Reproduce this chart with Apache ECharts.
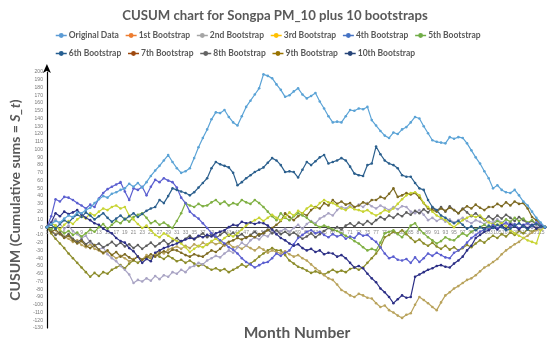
<!DOCTYPE html>
<html><head><meta charset="utf-8">
<script src="https://cdn.jsdelivr.net/npm/echarts@6/dist/echarts.min.js"></script>
<style>html,body{margin:0;padding:0;background:#fff}#c{width:550px;height:352px}</style>
</head><body><div id="c"></div>
<script>
var months = [];
for (var m = 1; m <= 116; m++) months.push(String(m));
var seriesNames = ['Original Data','1st Bootstrap','2nd Bootstrap','3rd Bootstrap','4th Bootstrap','5th Bootstrap','6th Bootstrap','7th Bootstrap','8th Bootstrap','9th Bootstrap','10th Bootstrap'];
var yTicks = {min: -130, max: 200, step: 10};

var original = [0,4,8,6,11,15,13,19,18,22,25,31,36,40,38,43,45,48,50,56,52,57,51,58,66,73,79,86,93,84,76,70,72,76,89,103,115,126,139,148,147,151,142,135,131,143,155,163,171,179,197,195,192,184,177,168,170,175,179,171,166,169,173,162,153,143,135,136,135,143,151,150,153,152,155,138,131,124,118,115,122,120,126,129,135,142,140,130,121,112,110,109,108,116,114,116,115,108,99,90,82,72,63,50,54,48,45,44,48,41,33,28,20,12,6,0];
var boot1 = [0,-4,-9,-6,-12,-15,-19,-17,-23,-26,-22,-28,-30,-34,-31,-36,-40,-37,-40,-44,-41,-38,-42,-36,-39,-35,-31,-34,-29,-27,-25,-28,-24,-27,-22,-25,-20,-23,-19,-22,-20,-24,-21,-26,-25,-28,-24,-27,-30,-26,-29,-33,-30,-32,-34,-31,-35,-38,-36,-40,-43,-48,-53,-57,-62,-66,-68,-74,-81,-84,-88,-90,-86,-88,-91,-92,-98,-103,-101,-107,-110,-114,-117,-113,-111,-100,-90,-94,-98,-103,-107,-97,-88,-84,-79,-76,-72,-68,-66,-62,-57,-52,-49,-45,-41,-35,-30,-26,-22,-19,-14,-11,-7,-4,-2,0];
var boot2 = [0,6,10,4,-2,2,-5,-9,-14,-11,-20,-24,-29,-26,-35,-40,-44,-50,-55,-61,-72,-68,-70,-66,-69,-63,-67,-62,-64,-58,-60,-55,-58,-52,-50,-46,-48,-43,-40,-37,-39,-34,-30,-33,-26,-20,-24,-17,-13,-16,-10,-12,-6,-9,-5,-2,-6,-1,3,-2,4,8,5,11,14,18,15,22,26,24,28,25,29,26,31,27,24,28,25,22,26,23,27,26,20,18,22,16,9,12,8,11,7,10,6,9,12,8,5,9,7,4,8,6,10,6,3,7,2,5,1,4,-1,2,-2,0];
var boot3 = [0,5,2,-3,3,8,4,10,14,11,18,15,20,24,22,26,28,24,26,15,10,4,-1,2,-4,-10,-13,-8,-11,-15,-18,-21,-26,-32,-28,-24,-26,-22,-18,-15,-19,-14,-10,-12,-8,-3,2,6,9,12,8,12,16,12,9,13,19,15,21,18,24,28,25,31,35,32,31,28,24,22,26,23,22,20,22,18,15,18,22,20,24,30,36,41,44,45,41,31,26,20,15,12,9,4,0,5,9,12,15,13,15,10,6,4,3,5,1,-4,-8,-11,-14,-17,-19,-21,-4,0];
var boot4 = [0,14,36,33,39,38,35,31,28,24,29,26,37,44,49,52,55,58,46,35,50,48,52,41,52,61,58,63,60,58,51,38,31,20,15,11,5,-1,-8,-12,-17,-21,-26,-29,-34,-40,-45,-48,-52,-49,-46,-45,-40,-34,-37,-33,-30,-22,-14,-10,-6,-4,-8,-6,-10,-13,-9,-12,-10,-15,-12,-14,-8,-11,-10,-15,-19,-26,-34,-40,-38,-42,-43,-41,-46,-39,-45,-40,-34,-37,-33,-36,-39,-40,-33,-30,-26,-20,-14,-10,-6,-3,-2,3,-1,2,6,1,4,-2,3,5,2,6,3,0];
var boot5 = [0,-3,2,-4,-8,-5,-10,-7,-12,-8,-3,-6,0,4,-2,3,8,5,11,7,13,16,18,12,5,8,3,6,2,-1,8,18,31,28,26,30,27,28,32,35,30,33,28,31,29,35,32,30,35,31,26,20,14,9,18,12,9,14,18,15,12,7,3,0,2,0,-3,-5,-8,-11,-14,-18,-21,-26,-30,-28,-30,-20,-8,-6,-4,-9,-13,-6,2,5,-3,-8,-13,-17,-21,-18,-13,-16,-17,-12,-8,-11,-6,-3,0,3,-1,4,8,5,10,7,12,8,11,6,9,4,2,0];
var boot6 = [0,3,-2,4,9,6,12,16,13,19,15,10,14,18,12,7,11,15,10,14,18,13,17,21,24,26,35,31,40,50,48,46,44,41,45,51,57,63,76,84,81,79,77,70,54,58,63,67,71,74,77,83,89,86,80,71,72,71,64,74,84,80,85,90,93,82,84,86,89,86,78,69,67,66,80,82,104,94,86,82,80,76,67,65,65,57,50,48,35,26,22,15,12,8,5,8,3,-2,1,-4,0,-3,2,-1,3,0,-4,-2,2,5,1,-3,2,4,1,0];
var boot7 = [0,-6,-3,-9,-14,-11,-17,-21,-18,-24,-27,-23,-29,-33,-30,-36,-32,-38,-35,-39,-42,-38,-42,-39,-35,-38,-34,-31,-33,-29,-30,-33,-36,-38,-35,-37,-38,-34,-30,-32,-28,-22,-19,-17,-14,-16,-13,-11,-13,-9,-8,-4,-1,3,8,18,13,9,14,18,15,22,26,24,31,28,35,30,33,29,31,26,28,32,30,35,35,39,37,43,50,39,41,44,42,44,38,31,24,22,20,24,21,25,22,18,23,27,24,29,25,22,26,26,30,27,32,28,33,30,31,24,13,9,4,0];
var boot8 = [0,-5,-10,-7,-13,-9,-15,-19,-16,-22,-18,-24,-21,-26,-23,-19,-24,-20,-25,-22,-27,-23,-28,-24,-20,-25,-21,-17,-22,-18,-14,-19,-15,-11,-16,-12,-8,-13,-9,-14,-10,-6,-11,-7,-12,-9,-14,-10,-6,-11,-7,-3,-8,-4,-9,-6,-10,-7,-11,-15,-12,-8,-13,-9,-5,-1,-4,0,-3,2,5,1,6,3,8,4,9,13,10,15,12,17,14,19,16,21,18,23,19,25,21,26,20,27,22,18,24,19,14,18,13,9,14,10,15,11,16,12,8,13,9,5,8,4,2,0];
var boot9 = [0,-8,-15,-21,-27,-34,-40,-46,-52,-58,-64,-59,-63,-58,-60,-55,-52,-49,-53,-47,-43,-46,-42,-39,-40,-35,-38,-41,-37,-40,-44,-42,-46,-43,-47,-50,-48,-52,-55,-53,-56,-54,-58,-55,-52,-48,-51,-47,-43,-38,-34,-30,-27,-30,-30,-36,-43,-47,-51,-53,-56,-59,-57,-59,-61,-58,-55,-58,-56,-58,-54,-52,-55,-52,-46,-40,-34,-26,-13,-10,-6,-8,-4,-9,-14,-19,-16,-21,-24,-20,-25,-28,-24,-29,-26,-30,-27,-23,-26,-21,-17,-20,-15,-11,-14,-9,-12,-7,-10,-5,-8,-3,-6,-2,-3,0];
var boot10 = [0,6,18,14,20,17,19,22,16,12,9,5,3,-2,-5,-8,-14,-18,-20,-27,-31,-38,-46,-41,-44,-33,-30,-27,-25,-23,-21,-18,-16,-14,-15,-11,-13,-10,-12,-8,-6,-4,0,3,2,7,5,6,4,6,5,2,-3,-9,-14,-17,-21,-24,-22,-27,-30,-28,-32,-30,-35,-33,-34,-38,-36,-40,-46,-52,-50,-53,-60,-66,-71,-79,-84,-90,-98,-93,-88,-91,-90,-64,-61,-58,-55,-53,-50,-49,-51,-52,-47,-43,-38,-30,-24,-14,-10,-6,-4,0,-3,2,-2,4,1,-3,2,-1,3,-2,1,0];

var allData = [original, boot1, boot2, boot3, boot4, boot5, boot6, boot7, boot8, boot9, boot10];
var lineColors = ['#5ba3d6','#b9a35c','#a9a4c4','#c8d433','#5b5fd0','#7fb043','#2b5f8d','#7d6a22','#5d5d5d','#8c8c2a','#2c2f86'];
var legendColors = ['#5b9bd5','#ed7d31','#a5a5a5','#ffc000','#4472c4','#70ad47','#255e91','#9e480e','#636363','#997300','#264478'];
var drawOrder = [9,1,2,8,7,5,3,4,10,6,0];

var series = drawOrder.map(function (k) {
  return {
    name: seriesNames[k], type: 'line', data: allData[k],
    symbol: 'circle', symbolSize: 2.6, showSymbol: true,
    lineStyle: {width: 1.2, color: lineColors[k]},
    itemStyle: {color: lineColors[k]},
    z: k === 0 ? 5 : 3, animation: false
  };
});
function legendItems(a, b) {
  var out = [];
  for (var k = a; k < b; k++) out.push({name: seriesNames[k], itemStyle: {color: legendColors[k]}, lineStyle: {color: legendColors[k], width: 1.5}});
  return out;
}
var legendText = {fontSize: 8.5, color: '#595959', fontFamily: 'Lato', fontWeight: 'bold', padding: [0, 0, 0, -3]};
var chart = echarts.init(document.getElementById('c'), null, {renderer: 'canvas'});
chart.setOption({
  animation: false,
  title: [
    {text: 'CUSUM chart for Songpa PM_10 plus 10 bootstraps', left: 'center', top: 4,
     textStyle: {fontSize: 13.2, fontWeight: 'bold', color: '#595959', fontFamily: 'Lato'}},
    {text: 'Month Number', left: 292, top: 320, textAlign: 'center',
     textStyle: {fontSize: 15.5, fontWeight: 'bold', color: '#595959', fontFamily: 'Lato'}}
  ],
  legend: [
    {data: legendItems(0, 6), left: 55, top: 31, width: 495, itemWidth: 11, itemHeight: 6, itemGap: 6, padding: 0, textStyle: legendText},
    {data: legendItems(6, 11), left: 55, top: 49, width: 495, itemWidth: 11, itemHeight: 6, itemGap: 6, padding: 0, textStyle: legendText}
  ],
  grid: {left: 30, right: 5, top: 72, bottom: 24, containLabel: false},
  xAxis: {
    type: 'category', data: months, boundaryGap: false, offset: -101,
    axisLine: {onZero: false, lineStyle: {color: '#404040', width: 1}},
    axisTick: {show: false},
    axisLabel: {interval: 1, fontSize: 5, color: '#8a8a8a', margin: 3}
  },
  yAxis: {
    type: 'value', min: yTicks.min, max: yTicks.max, interval: yTicks.step,
    name: 'CUSUM (Cumulative sums = {i|S_t})', nameLocation: 'middle', nameGap: 16, nameRotate: 90,
    nameTextStyle: {fontSize: 14, fontWeight: 'bold', color: '#595959', fontFamily: 'Lato',
      rich: {i: {fontSize: 14, fontWeight: 'bold', fontStyle: 'italic', color: '#595959', fontFamily: 'Lato'}}},
    axisLine: {show: true, symbol: ['none', 'arrow'], symbolSize: [6, 9], symbolOffset: [0, 8], lineStyle: {color: '#000', width: 1.2}},
    axisTick: {show: false},
    splitLine: {show: false},
    axisLabel: {fontSize: 5, color: '#777', margin: 4}
  },
  series: series
});
</script></body></html>
